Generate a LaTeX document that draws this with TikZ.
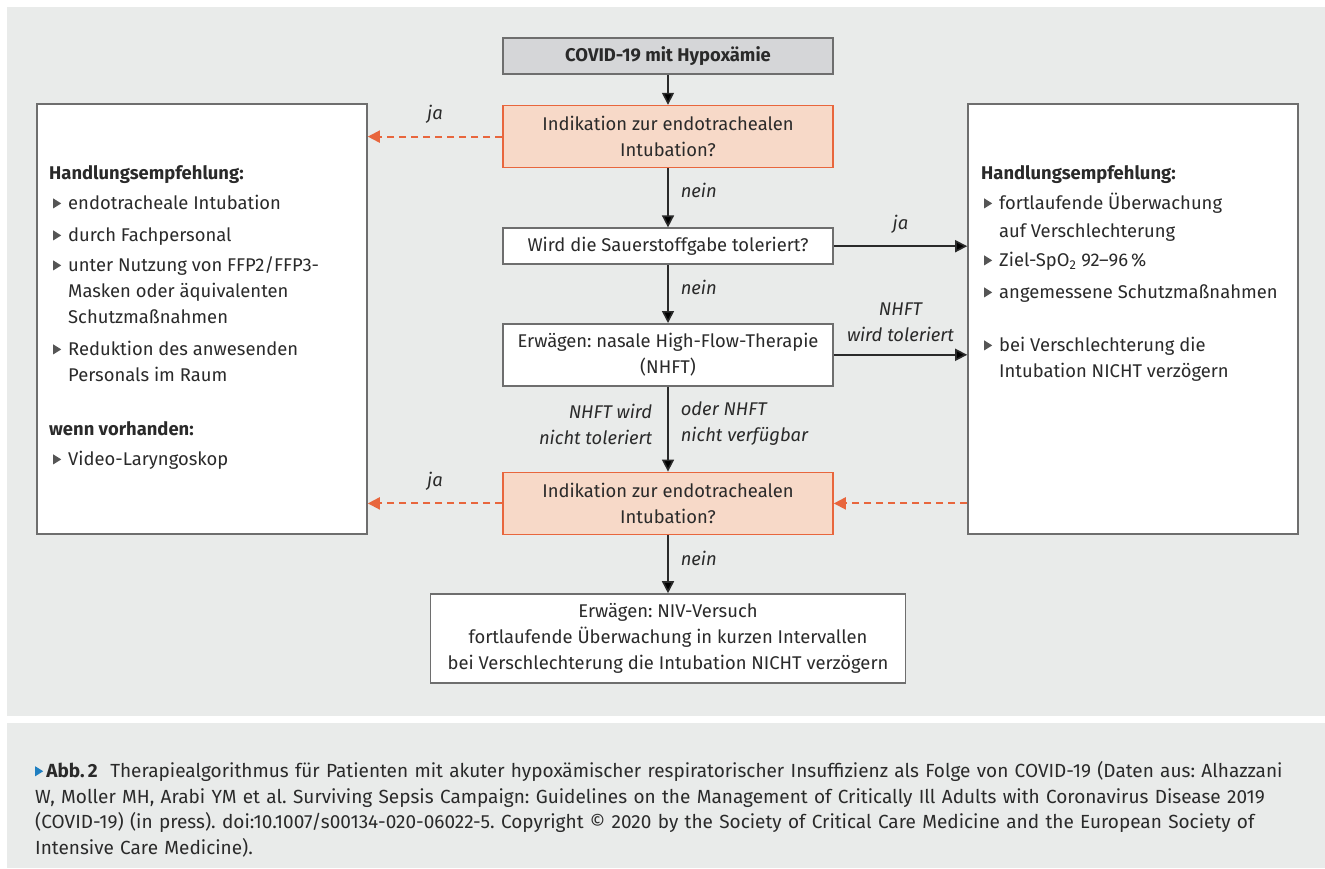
\documentclass[tikz,border=0pt]{standalone}
\usepackage{fontspec}
\setmainfont{Fira Sans}
\usetikzlibrary{arrows.meta,positioning}

\definecolor{bggray}{HTML}{E9EBEA}
\definecolor{startfill}{HTML}{D5D6D8}
\definecolor{boxgray}{HTML}{6E6E6E}
\definecolor{askfill}{HTML}{F7D9C8}
\definecolor{askline}{HTML}{E8663D}
\definecolor{txt}{HTML}{2A2A2A}
\definecolor{bulletgray}{HTML}{555555}
\definecolor{capblue}{HTML}{1F7FC1}

% small filled triangle used as list bullet
\newcommand{\tri}[1][bulletgray]{\tikz[baseline=0pt,x=1pt,y=1pt]\fill[#1] (0,1) -- (0,11) -- (8,6) -- cycle;}

\frenchspacing
\begin{document}
\begin{tikzpicture}[
  x=1pt, y=-1pt,
  font=\fontsize{18.4}{26}\selectfont, text=txt,
  box/.style={draw=boxgray, line width=1.6pt, fill=white, align=center, minimum width=330pt, minimum height=36pt, inner sep=4pt},
  startbox/.style={box, fill=startfill},
  askbox/.style={box, draw=askline, fill=askfill, minimum height=62pt},
  sidebox/.style={draw=boxgray, line width=1.6pt, fill=white, minimum width=330pt, minimum height=430pt},
  list/.style={anchor=north west, inner sep=0pt, align=left},
  lbl/.style={font=\fontsize{18.4}{26}\selectfont\itshape, inner sep=0pt},
  arr/.style={-{Triangle[length=12pt,width=12pt]}, line width=1.6pt, draw=txt},
  darr/.style={-{Triangle[length=12pt,width=12pt]}, line width=2pt, draw=askline, dash pattern=on 7pt off 5pt}
]

\useasboundingbox (0,0) rectangle (1325,868);
\fill[bggray] (7,7) rectangle (1325,716);
\fill[bggray] (7,723) rectangle (1325,868);

% main column
\node[startbox] (covid) at (668,56) {\textbf{COVID-19 mit Hypoxämie}};
\node[askbox, below=30pt of covid] (intub1) {Indikation zur endotrachealen\\Intubation?};
\node[box, below=59pt of intub1] (sauer) {Wird die Sauerstoffgabe toleriert?};
\node[box, below=58pt of sauer, minimum height=62pt] (nhft) {Erwägen: nasale High-Flow-Therapie\\(NHFT)};
\node[askbox, below=85pt of nhft] (intub2) {Indikation zur endotrachealen\\Intubation?};
\node[box, below=58pt of intub2, minimum width=475pt, minimum height=89pt] (niv) {Erwägen: NIV-Versuch\\fortlaufende Überwachung in kurzen Intervallen\\bei Verschlechterung die Intubation NICHT verzögern};

% side boxes
\node[sidebox] (links) at (202,319) {};
\node[sidebox] (rechts) at (1133,319) {};

\node[list] (linkstext) at (49,161) {%
\begin{tabular}{@{\hspace{4pt}}l@{\hspace{7pt}}l@{}}
\multicolumn{2}{@{}l}{\textbf{Handlungsempfehlung:}}\\[4pt]
\tri & endotracheale Intubation\\[6pt]
\tri & durch Fachpersonal\\[4pt]
\tri & unter Nutzung von FFP2/FFP3-\\
 & Masken oder äquivalenten\\
 & Schutzmaßnahmen\\[6pt]
\tri & Reduktion des anwesenden\\
 & Personals im Raum\\[28pt]
\multicolumn{2}{@{}l}{\textbf{wenn vorhanden:}}\\[4pt]
\tri & Video-Laryngoskop
\end{tabular}};

\node[list] (rechtstext) at (981,161) {%
\begin{tabular}{@{\hspace{3pt}}l@{\hspace{7pt}}l@{}}
\multicolumn{2}{@{}l}{\textbf{Handlungsempfehlung:}}\\[4pt]
\tri & fortlaufende Überwachung\\[2pt]
 & auf Verschlechterung\\[3pt]
\tri & Ziel-SpO\textsubscript{2} 92–96\,\%\\[6pt]
\tri & angemessene Schutzmaßnahmen\\[27pt]
\tri & bei Verschlechterung die\\
 & Intubation NICHT verzögern
\end{tabular}};

% connectors
\draw[arr] (covid) -- (intub1);
\draw[arr] (intub1) -- node[lbl, right=12pt, pos=0.38] {nein} (sauer);
\draw[arr] (sauer) -- node[lbl, right=12pt, pos=0.38] {nein} (nhft);
\draw[arr] (nhft) -- node[lbl, left=15pt, pos=0.44, align=right] {NHFT wird\\nicht toleriert}
  node[lbl, right=12pt, pos=0.44, align=left] {oder NHFT\\nicht verfügbar} (intub2);
\draw[arr] (intub2) -- node[lbl, right=12pt, pos=0.4] {nein} (niv);
\draw[arr] (sauer) -- node[lbl, above=12pt] {ja} (sauer -| rechts.west);
\draw[arr] (nhft) -- node[lbl, above=12pt, align=center] {NHFT\\wird toleriert} (nhft -| rechts.west);
\draw[darr] (intub1) -- node[lbl, above=12pt] {ja} (intub1 -| links.east);
\draw[darr] (intub2) -- node[lbl, above=12pt] {ja} (intub2 -| links.east);
\draw[darr] (rechts.west |- intub2) -- (intub2);

% caption
\node[list, text width=1285pt, font=\fontsize{19}{25.8}\selectfont] (caption) at (35,761) {%
\tri[capblue]\,\textbf{Abb.\,2}\ \ Therapiealgorithmus für Patienten mit akuter hypoxämischer respiratorischer Insuffizienz als Folge von COVID-19 (Daten aus: Alhazzani\\
W, Moller MH, Arabi YM et al. Surviving Sepsis Campaign: Guidelines on the Management of Critically Ill Adults with Coronavirus Disease 2019\\
(COVID-19) (in press). doi:10.1007/s00134-020-06022-5. Copyright © 2020 by the Society of Critical Care Medicine and the European Society of\\
Intensive Care Medicine).};

\end{tikzpicture}
\end{document}
